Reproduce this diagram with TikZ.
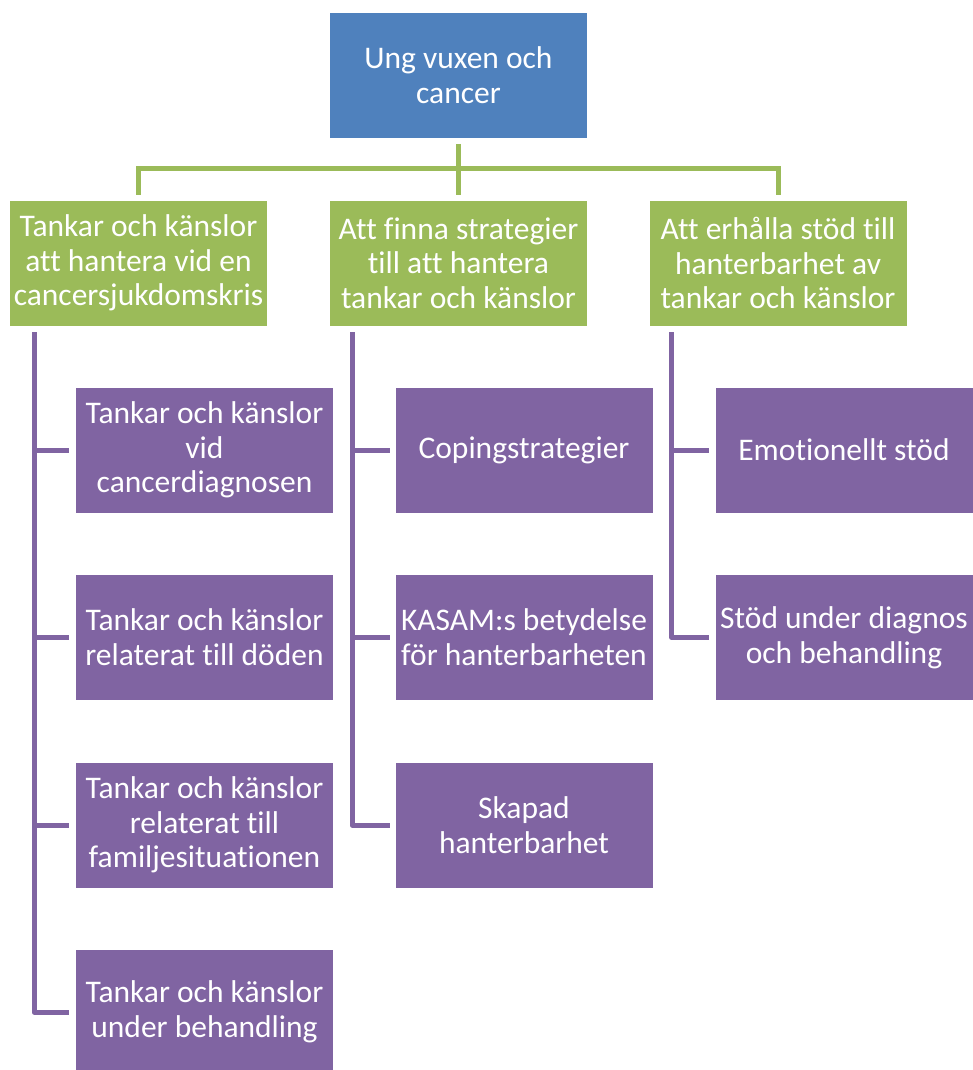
\documentclass[tikz,border=0pt]{standalone}
\usepackage{fontspec}
\setmainfont[Ligatures={NoCommon}]{Carlito}
\usetikzlibrary{calc}
\definecolor{cblue}{HTML}{4F81BD}
\definecolor{cgreen}{HTML}{9BBB59}
\definecolor{cpurple}{HTML}{8064A2}
\begin{document}
\begin{tikzpicture}[x=1pt,y=-1pt,
  box/.style={minimum width=258pt,minimum height=126pt,inner sep=0pt,draw=white,line width=0.8pt,
    text=white,align=center,font=\fontsize{31.5}{34.7}\selectfont},
  topbox/.style={box,fill=cblue},
  gbox/.style={box,fill=cgreen},
  pbox/.style={box,fill=cpurple},
  gline/.style={draw=cgreen,line width=5pt},
  pline/.style={draw=cpurple,line width=5pt,line join=round}]
\useasboundingbox (0,0) rectangle (973,1070);
\node[topbox] (top) at (458.5,75.5) {Ung vuxen och\\cancer};
\node[gbox] (g1) at (138.5,263) {Tankar och känslor\\att hantera vid en\\cancersjukdomskris};
\node[gbox] (g2) at (458.5,263) {Att finna strategier\\till att hantera\\tankar och känslor};
\node[gbox] (g3) at (778,263) {Att erhålla stöd till\\hanterbarhet av\\tankar och känslor};
\node[pbox] (p11) at (204.5,450) {Tankar och känslor\\vid\\cancerdiagnosen};
\node[pbox] (p12) at (204.5,637.5) {Tankar och känslor\\relaterat till döden};
\node[pbox] (p13) at (204.5,825) {Tankar och känslor\\relaterat till\\familjesituationen};
\node[pbox] (p14) at (204.5,1012) {Tankar och känslor\\under behandling};
\node[pbox] (p21) at (524,450) {Copingstrategier};
\node[pbox] (p22) at (524,637.5) {KASAM:s betydelse\\för hanterbarheten};
\node[pbox] (p23) at (524,825) {Skapad\\hanterbarhet};
\node[pbox] (p31) at (844,450) {Emotionellt stöd};
\node[pbox] (p32) at (844,637.5) {Stöd under diagnos\\och behandling};
% green connectors
\coordinate (hub) at ([yshift=-30pt]top.south);
\draw[gline] ([yshift=-5pt]top.south) -- ([yshift=5pt]g2.north);
\draw[gline] ([yshift=5pt]g1.north) |- (hub) -| ([yshift=5pt]g3.north);
% purple connectors
\coordinate (l1) at ([xshift=25pt,yshift=-6pt]g1.south west);
\coordinate (l2) at ([xshift=23pt,yshift=-6pt]g2.south west);
\coordinate (l3) at ([xshift=23pt,yshift=-6pt]g3.south west);
\draw[pline] (l1) |- ([xshift=-6pt]p14.west);
\draw[pline] (l1 |- p11.west) -- ([xshift=-6pt]p11.west);
\draw[pline] (l1 |- p12.west) -- ([xshift=-6pt]p12.west);
\draw[pline] (l1 |- p13.west) -- ([xshift=-6pt]p13.west);
\draw[pline] (l2) |- ([xshift=-5pt]p23.west);
\draw[pline] (l2 |- p21.west) -- ([xshift=-5pt]p21.west);
\draw[pline] (l2 |- p22.west) -- ([xshift=-5pt]p22.west);
\draw[pline] (l3) |- ([xshift=-6pt]p32.west);
\draw[pline] (l3 |- p31.west) -- ([xshift=-6pt]p31.west);
\end{tikzpicture}
\end{document}
